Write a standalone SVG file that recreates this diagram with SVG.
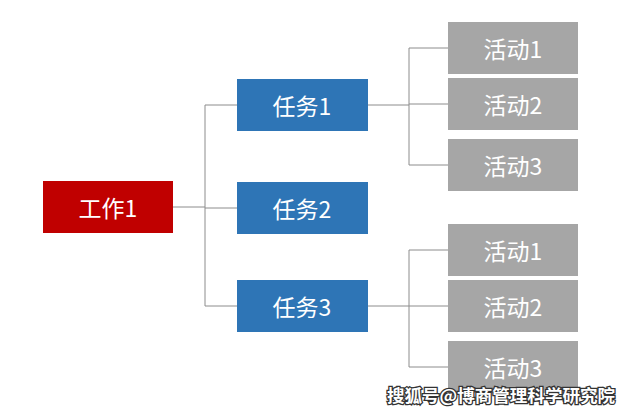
<svg xmlns="http://www.w3.org/2000/svg" width="629" height="412" viewBox="0 0 629 412">
<style>
text{font-family:"Microsoft YaHei","Noto Sans CJK SC",sans-serif;font-size:23px;fill:#fff;text-anchor:middle;dominant-baseline:central}
.r{fill:#C00000}.b{fill:#2E75B6}.g{fill:#A6A6A6}
#connectors path{fill:none;stroke:#8c8c8c;stroke-width:1}
.wm{font-size:17px;font-weight:bold;fill:#fff;stroke:#333;stroke-width:2.5px;paint-order:stroke;text-anchor:start}
</style>
<rect width="629" height="412" fill="#fff"/>
<g id="connectors">
<path d="M173 207H205M205 105V306M205 105H237M205 208H237M205 306H237"/>
<path d="M368 105H409M409 48V165M409 48H448M409 104H448M409 165H448"/>
<path d="M368 306H409M409 250V367M409 250H448M409 306H448M409 367H448"/>
</g>
<g id="w1"><rect class="r" x="43" y="181" width="130" height="52"/><text x="108" y="207">工作1</text></g>
<g id="t1"><rect class="b" x="237" y="79" width="131" height="52"/><text x="302" y="105">任务1</text></g>
<g id="t2"><rect class="b" x="237" y="182" width="131" height="52"/><text x="302" y="208">任务2</text></g>
<g id="t3"><rect class="b" x="237" y="280" width="131" height="52"/><text x="302" y="306">任务3</text></g>
<g id="a11"><rect class="g" x="448" y="22" width="130" height="52"/><text x="513" y="48">活动1</text></g>
<g id="a12"><rect class="g" x="448" y="78" width="130" height="52"/><text x="513" y="104">活动2</text></g>
<g id="a13"><rect class="g" x="448" y="139" width="130" height="52"/><text x="513" y="165">活动3</text></g>
<g id="a31"><rect class="g" x="448" y="224" width="130" height="52"/><text x="513" y="250">活动1</text></g>
<g id="a32"><rect class="g" x="448" y="280" width="130" height="52"/><text x="513" y="306">活动2</text></g>
<g id="a33"><rect class="g" x="448" y="341" width="130" height="52"/><text x="513" y="367">活动3</text></g>
<text class="wm" x="387" y="394" textLength="228" lengthAdjust="spacingAndGlyphs">搜狐号@博商管理科学研究院</text>
</svg>
